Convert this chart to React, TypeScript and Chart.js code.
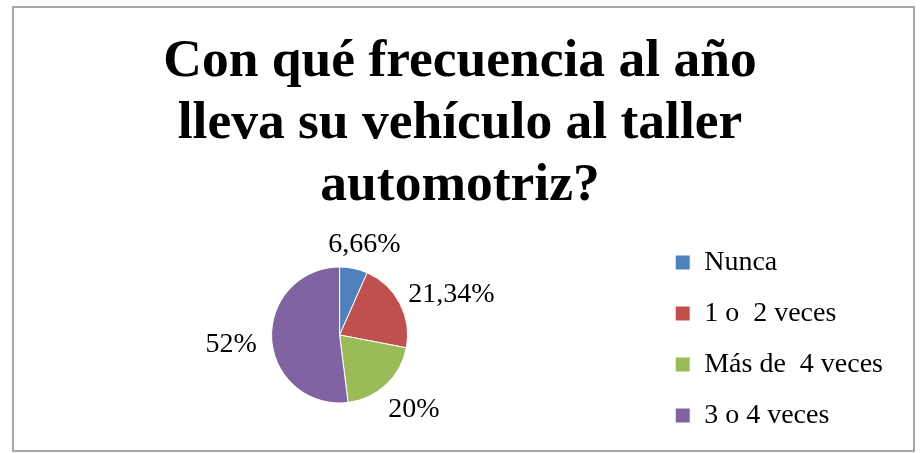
import { useEffect, useRef } from "react";
import { Chart, registerables } from "chart.js";

Chart.register(...registerables);

const categories = ["Nunca", "1 o  2 veces", "Más de  4 veces", "3 o 4 veces"];
const values = [6.66, 21.34, 20, 52];
const colors = ["#4F81BD", "#C0504D", "#9BBB59", "#8064A2"];
const titleLines = ["Con qué frecuencia al año", "lleva su vehículo al taller", "automotriz?"];

const SERIF = "'Liberation Serif', 'Times New Roman', serif";

const formatPct = (v: number) => String(v).replace(".", ",") + "%";

const outsideLabels = {
  id: "outsideLabels",
  afterDatasetsDraw(chart: any) {
    const ctx = chart.ctx as CanvasRenderingContext2D;
    const meta = chart.getDatasetMeta(0);
    ctx.save();
    ctx.font = `28px ${SERIF}`;
    ctx.fillStyle = "#000";
    ctx.textAlign = "center";
    ctx.textBaseline = "middle";
    meta.data.forEach((arc: any, i: number) => {
      const { x, y, startAngle, endAngle, outerRadius } = arc.getProps(
        ["x", "y", "startAngle", "endAngle", "outerRadius"],
        true
      );
      const mid = (startAngle + endAngle) / 2;
      const dx = Math.cos(mid);
      const dy = Math.sin(mid);
      const text = formatPct(values[i]);
      const w = ctx.measureText(text).width;
      const h = 27;
      const r = outerRadius + 15;
      const cx = x + dx * r + (dx * w) / 2;
      const cy = y + dy * r + (dy * h) / 2 + 4;
      ctx.fillText(text, cx, cy);
    });
    ctx.restore();
  },
};

export default function App() {
  const canvasRef = useRef<HTMLCanvasElement | null>(null);

  useEffect(() => {
    if (!canvasRef.current) return;
    const chart = new Chart(canvasRef.current, {
      type: "pie",
      data: {
        labels: categories,
        datasets: [
          {
            data: values,
            backgroundColor: colors,
            borderColor: "#ffffff",
            borderWidth: 1,
          },
        ],
      },
      options: {
        animation: false,
        responsive: false,
        maintainAspectRatio: false,
        devicePixelRatio: 1,
        radius: 68,
        events: [],
        layout: { padding: { left: 27, right: 29, top: 0, bottom: 0 } },
        plugins: {
          tooltip: { enabled: false },
          title: {
            display: true,
            text: titleLines,
            color: "#000",
            font: { family: SERIF, size: 53.5, weight: "bold", lineHeight: "62px" },
            padding: { top: 31, bottom: 0 },
          },
          legend: {
            display: true,
            position: "right",
            align: "center",
            fullSize: false,
            title: {
              display: true,
              text: "",
              font: { family: SERIF, size: 8, lineHeight: 1 },
              padding: 0,
            },
            labels: {
              boxWidth: 15,
              boxHeight: 15,
              padding: 23,
              color: "#000",
              font: { family: SERIF, size: 28 },
            },
          },
        },
      } as any,
      plugins: [outsideLabels],
    });
    return () => chart.destroy();
  }, []);

  return (
    <div
      style={{
        position: "fixed",
        left: 0,
        top: 0,
        width: 922,
        height: 453,
        background: "#ffffff",
      }}
    >
      <canvas
        ref={canvasRef}
        width={922}
        height={453}
        style={{ position: "absolute", left: 0, top: 0 }}
      />
      <div
        style={{
          position: "absolute",
          left: 12,
          top: 6,
          width: 903,
          height: 446,
          boxSizing: "border-box",
          border: "2px solid #a6a6a6",
          pointerEvents: "none",
        }}
      />
    </div>
  );
}
